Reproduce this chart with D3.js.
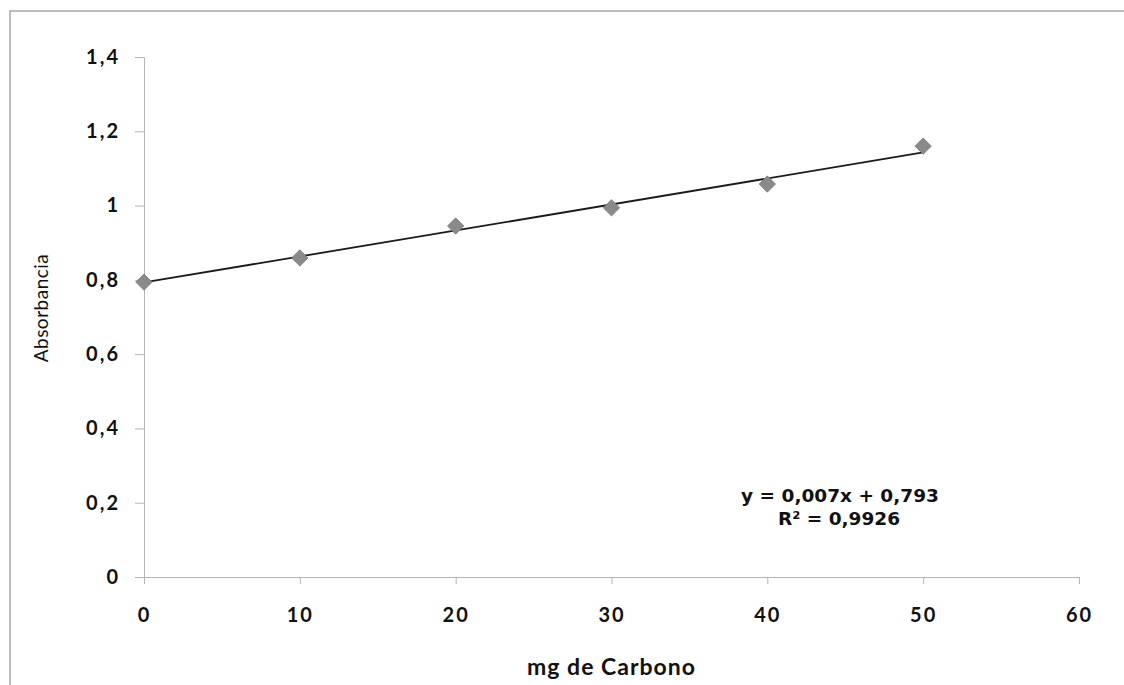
<!DOCTYPE html>
<html>
<head>
<meta charset="utf-8">
<script src="https://cdn.jsdelivr.net/npm/d3@7"></script>
<style>
  html, body { margin: 0; padding: 0; background: #fff; }
  svg { display: block; }
</style>
</head>
<body>
<svg id="chart" width="1124" height="685"></svg>
<script>
// ---- data ----
const mgCarbono = [0, 10, 20, 30, 40, 50];
const absorbancia = [0.794, 0.859, 0.945, 0.994, 1.058, 1.160];
const xTicks = [0, 10, 20, 30, 40, 50, 60];
const yTicks = [0, 0.2, 0.4, 0.6, 0.8, 1.0, 1.2, 1.4];
const trendSlope = [0.007];
const trendIntercept = [0.793];
const equationLines = ["y = 0,007x + 0,793", "R² = 0,9926"];
const xTitle = "mg de Carbono";
const yTitle = "Absorbancia";

const svg = d3.select("#chart");
const W = 1124, H = 685;
const m = { left: 144, right: 1079, top: 57, bottom: 577 };

const x = d3.scaleLinear().domain([0, 60]).range([m.left, m.right]);
const y = d3.scaleLinear().domain([0, 1.4]).range([m.bottom, m.top]);

const fmt = d => String(+d.toFixed(1)).replace(".", ",");

// outer chart border (partial, as in scan)
svg.append("path")
  .attr("d", `M10,${H} L10,11 L${W},11`)
  .attr("fill", "none")
  .attr("stroke", "#a8a8a8")
  .attr("stroke-width", 1.5);

const tickFont = sel => sel
  .attr("font-family", "Lato, 'Open Sans', sans-serif")
  .attr("font-weight", "bold")
  .attr("font-size", 20)
  .attr("fill", "#111")
  .style("letter-spacing", "2px");

// y axis
const yAxis = d3.axisLeft(y).tickValues(yTicks).tickSize(9).tickPadding(15).tickFormat(fmt);
const gy = svg.append("g").attr("transform", `translate(${m.left},0)`).call(yAxis);
gy.select(".domain").attr("stroke", "#b5b5b5");
gy.selectAll(".tick line").attr("stroke", "#b5b5b5");
gy.selectAll(".tick text").call(tickFont);

// x axis
const xAxis = d3.axisBottom(x).tickValues(xTicks).tickSize(7).tickPadding(24).tickFormat(d => d);
const gx = svg.append("g").attr("transform", `translate(0,${m.bottom})`).call(xAxis);
gx.select(".domain").attr("stroke", "#b5b5b5");
gx.selectAll(".tick line").attr("stroke", "#b5b5b5");
gx.selectAll(".tick text").call(tickFont);

// trendline
const x0 = d3.min(mgCarbono), x1 = d3.max(mgCarbono);
svg.append("line")
  .attr("x1", x(x0)).attr("y1", y(trendIntercept[0] + trendSlope[0] * x0))
  .attr("x2", x(x1)).attr("y2", y(trendIntercept[0] + trendSlope[0] * x1))
  .attr("stroke", "#1a1a1a")
  .attr("stroke-width", 1.8);

// markers
const diamond = d3.symbol().type(d3.symbolDiamond2).size(170);
svg.append("g").selectAll("path")
  .data(mgCarbono.map((v, i) => [v, absorbancia[i]]))
  .join("path")
  .attr("d", diamond)
  .attr("transform", d => `translate(${x(d[0])},${y(d[1])})`)
  .attr("fill", "#8a8a8a")
  .attr("stroke", "#7a7a7a")
  .attr("stroke-width", 0.8);

// equation
const eq = svg.append("text")
  .attr("text-anchor", "middle")
  .attr("font-family", "'DejaVu Sans', Verdana, sans-serif")
  .attr("font-weight", "bold")
  .attr("font-size", 18.5)
  .attr("fill", "#111");
eq.append("tspan").attr("x", 840).attr("y", 502).text(equationLines[0]);
eq.append("tspan").attr("x", 839).attr("y", 525).text(equationLines[1]);

// axis titles
svg.append("text")
  .attr("x", (m.left + m.right) / 2)
  .attr("y", 675)
  .attr("text-anchor", "middle")
  .attr("font-family", "Lato, 'Open Sans', sans-serif")
  .attr("font-weight", "bold")
  .attr("font-size", 23)
  .attr("fill", "#111")
  .style("letter-spacing", "1px")
  .text(xTitle);

svg.append("text")
  .attr("transform", `translate(48,${308}) rotate(-90)`)
  .attr("text-anchor", "middle")
  .attr("font-family", "Lato, 'Open Sans', sans-serif")
  .attr("font-size", 19)
  .attr("fill", "#111")
  .style("letter-spacing", "0.5px")
  .text(yTitle);
</script>
</body>
</html>
